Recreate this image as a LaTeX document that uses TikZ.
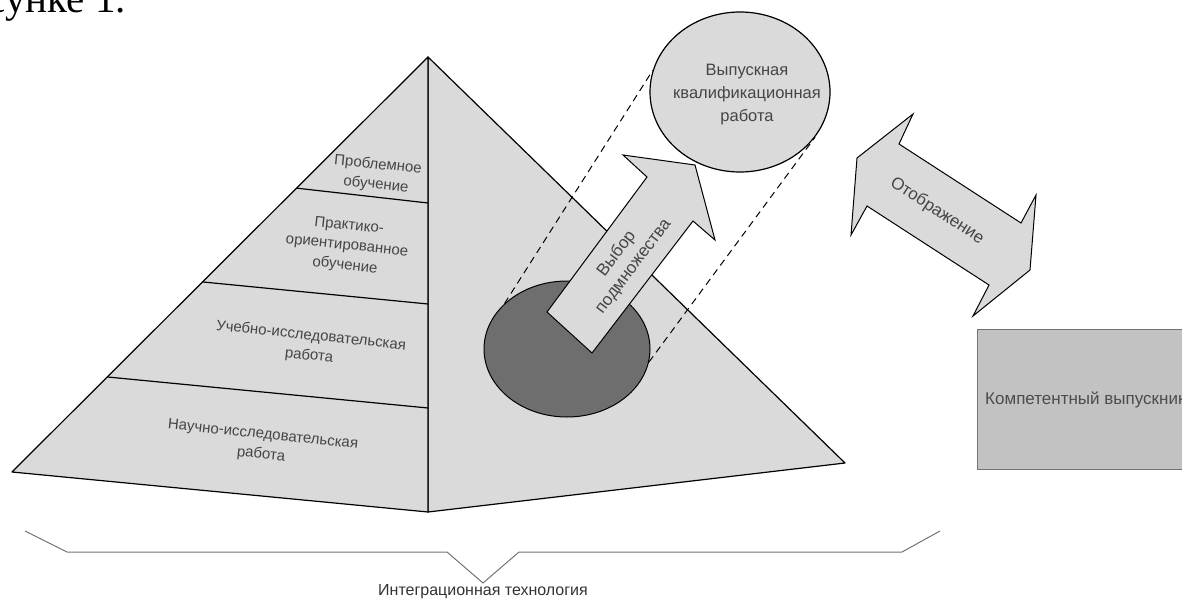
\documentclass[tikz,border=0pt]{standalone}
\usepackage{fontspec}
\setmainfont{Liberation Sans}
\newfontfamily\serifcyr{Liberation Serif}
\usepackage{tikz}
\usetikzlibrary{positioning}
\usetikzlibrary{calc,shapes.geometric}
\definecolor{facegray}{HTML}{DADADA}
\definecolor{holegray}{HTML}{6E6E6E}
\definecolor{boxgray}{HTML}{C2C2C2}
\definecolor{txtgray}{HTML}{454545}
\tikzset{
  face/.style={fill=facegray,draw=black,line width=1.2pt,line join=round},
  layer/.style={draw=black,line width=1.2pt},
  lbl/.style={text=txtgray,align=center,inner sep=0pt,rotate=-6,
    font=\fontsize{15}{20}\selectfont},
  blockarrow/.style={fill=facegray,draw=black,line width=1pt,line join=miter},
  proj/.style={draw=black,line width=1pt,dash pattern=on 7pt off 5pt},
  bracepen/.style={draw=black!55,line width=1pt},
}

\begin{document}
\begin{tikzpicture}[x=1pt,y=-1pt]
\useasboundingbox (0,0) rectangle (1182,604);
\clip (0,0) rectangle (1182,604);

% ---------------- Caption fragment ----------------
\node[anchor=base east,inner sep=0pt,font=\serifcyr\fontsize{41}{44}\selectfont]
  (figref) at (126,13) {рисунке 1.};

% ---------------- Pyramid ----------------
\coordinate (apex) at (428,57);
\coordinate (lft) at (12,472);
\coordinate (front) at (428,512);
\coordinate (rgt) at (845,463);

\draw[face] (apex) -- (front) -- (rgt) -- cycle;
\draw[face] (apex) -- (lft) -- (front) -- cycle;

% layers of the left face
\foreach \t/\y in {0.316/203, 0.542/304, 0.771/408}{
  \draw[layer] ($(apex)!\t!(lft)$) -- (428,\y);
}

\node[lbl] (problem)  at (377,175) {Проблемное\\обучение};
\node[lbl] (practice) at (347,246) {Практико-\\ориентированное\\обучение};
\node[lbl] (study)    at (310,346) {Учебно-исследовательская\\работа};
\node[lbl] (science)  at (262,445) {Научно-исследовательская\\работа};

% ---------------- Subset and thesis ----------------
\node[ellipse,fill=holegray,draw=black,line width=1pt,inner sep=0pt,
  minimum width=166pt,minimum height=136pt] (subset) at (567,349) {};

\node[ellipse,fill=facegray,draw=black,line width=1.2pt,inner sep=0pt,
  minimum width=180pt,minimum height=160pt] (thesis) at (740,92) {};
\node[text=txtgray,align=center,inner sep=0pt,
  font=\fontsize{16.5}{23}\selectfont] (thesistext) at (747,95)
  {Выпускная\\квалификационная\\работа};

\draw[proj] (subset.144) -- (thesis.166);
\draw[proj] (subset.-9) -- (thesis.-31);

% selection arrow
\draw[blockarrow] (547,312) -- (647,177) -- (623,155) -- (695,165)
  -- (715,240) -- (693,221) -- (592,353) -- cycle;
\node[text=txtgray,align=center,inner sep=0pt,rotate=53,
  font=\fontsize{17}{21}\selectfont] (choice) at (625,260)
  {Выбор\\подмножества};

% ---------------- Mapping arrow ----------------
\draw[blockarrow] (913,114) -- (899,144) -- (1021,223) -- (1036,195)
  -- (1030,270) -- (973,316) -- (989,285) -- (867,206) -- (851,235)
  -- (857,158) -- cycle;
\node[text=txtgray,inner sep=0pt,rotate=-33,
  font=\fontsize{17}{20}\selectfont] (mapping) at (937,211) {Отображение};

% ---------------- Graduate ----------------
\node[anchor=north west,fill=boxgray,draw=black!55,line width=1.2pt,
  minimum width=240pt,minimum height=140pt] (graduate) at (977,329) {};
\node[anchor=west,text=black!70,inner sep=0pt,
  font=\fontsize{17}{20}\selectfont] (gradtext) at ([xshift=8pt]graduate.west)
  {Компетентный выпускник};

% ---------------- Brace ----------------
\coordinate (brl) at (25,531);
\coordinate (brr) at (940,531);
\coordinate (brtip) at (483,583);
\draw[bracepen] (brl) -- (67,552) -- (447,552) -- (brtip)
  -- (519,552) -- (902,552) -- (brr);
\node[anchor=base,inner sep=0pt,text=black!80,
  font=\fontsize{16}{19}\selectfont] (integration) at (483,595)
  {Интеграционная технология};

\end{tikzpicture}
\end{document}
